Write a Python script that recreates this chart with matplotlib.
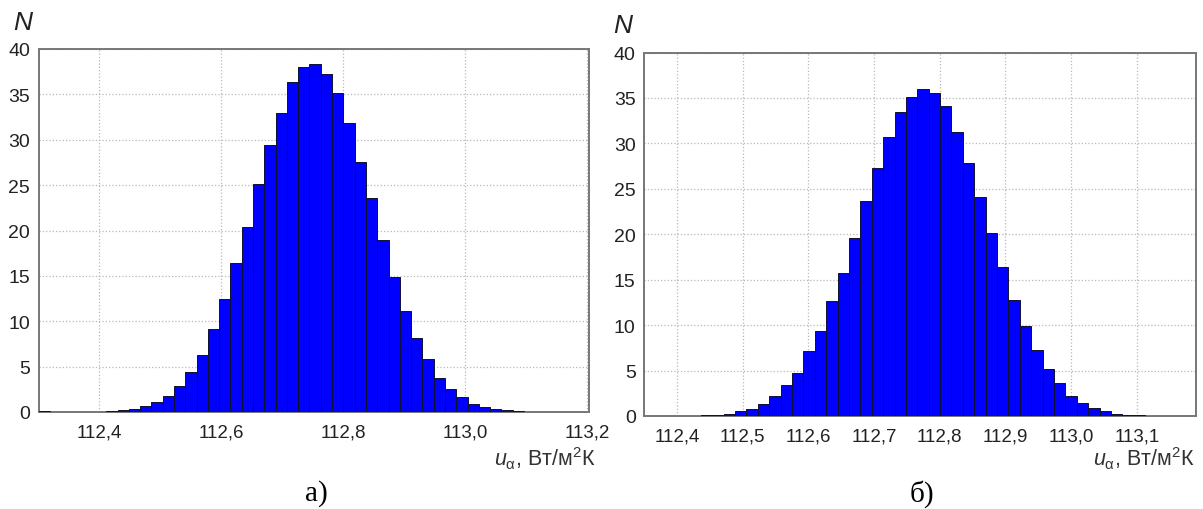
import numpy as np
import matplotlib
matplotlib.use('Agg')
import matplotlib.pyplot as plt

plt.rcParams['font.family'] = ['Liberation Sans', 'DejaVu Sans']
plt.rcParams['mathtext.fontset'] = 'custom'
plt.rcParams['mathtext.rm'] = 'Liberation Sans'
plt.rcParams['mathtext.it'] = 'Liberation Sans:italic'

# panel a) histogram
a_start = 112.301
a_width = 0.0185
a_heights = [0.1, 0, 0, 0, 0.03, 0.05, 0.08,
             0.2, 0.37, 0.66, 1.1, 1.76, 2.86, 4.4, 6.3,
             9.1, 12.4, 16.4, 20.4, 25.1,
             29.4, 33.0, 36.4, 38.0, 38.35,
             37.2, 35.1, 31.8, 27.6, 23.6,
             19.0, 14.9, 11.1, 8.1, 5.8,
             3.7, 2.5, 1.6, 0.9, 0.6, 0.3, 0.2, 0.1, 0.05]
a_ticks = [112.4, 112.6, 112.8, 113.0, 113.2]
a_ticklabels = ['112,4', '112,6', '112,8', '113,0', '113,2']

# panel б) histogram
b_start = 112.35
b_width = 0.01733
b_heights = [0.05, 0, 0, 0, 0.03, 0.07,
             0.15, 0.25, 0.5, 0.8, 1.3, 2.2, 3.4, 4.7,
             7.1, 9.4, 12.7, 15.7, 19.6, 23.7, 27.3, 30.7,
             33.4, 35.1, 36.0, 35.5, 34.1, 31.2, 27.8, 24.1,
             20.1, 16.4, 12.8, 9.9, 7.3, 5.2, 3.6, 2.2,
             1.4, 0.85, 0.55, 0.25, 0.15, 0.08, 0.04]
b_ticks = [112.4, 112.5, 112.6, 112.7, 112.8, 112.9, 113.0, 113.1]
b_ticklabels = ['112,4', '112,5', '112,6', '112,7', '112,8', '112,9', '113,0', '113,1']

y_ticks = [0, 5, 10, 15, 20, 25, 30, 35, 40]

fig = plt.figure(figsize=(12.03, 5.10), dpi=100)
W, H = 1203, 510

panels = [
    dict(rect=[38.5 / W, 97 / H, 550.5 / W, 363 / H], start=a_start, width=a_width,
         heights=a_heights, ticks=a_ticks, labels=a_ticklabels, xlim=(112.301, 113.203),
         n_pos=(23, 23), xl_pos=(596, 466), tag='а)', tag_pos=(316, 494)),
    dict(rect=[644 / W, 93 / H, 552 / W, 363.5 / H], start=b_start, width=b_width,
         heights=b_heights, ticks=b_ticks, labels=b_ticklabels, xlim=(112.35, 113.19),
         n_pos=(623, 26), xl_pos=(1195, 466), tag='б)', tag_pos=(922, 494)),
]

for p in panels:
    ax = fig.add_axes(p['rect'])
    edges = p['start'] + p['width'] * np.arange(len(p['heights']))
    ax.bar(edges, p['heights'], width=p['width'], align='edge',
           color='#0000ff', edgecolor='#101030', linewidth=0.7, zorder=3)
    ax.set_xlim(*p['xlim'])
    ax.set_ylim(0, 40)
    ax.set_xticks(p['ticks'])
    ax.set_xticklabels(p['labels'])
    ax.set_yticks(y_ticks)
    ax.tick_params(axis='both', length=0, colors='#222222')
    ax.tick_params(axis='x', pad=8, labelsize=13.5)
    ax.tick_params(axis='y', pad=6, labelsize=14)
    ax.grid(True, linestyle=':', color='#b8b8b8', linewidth=0.9, zorder=0)
    for s in ax.spines.values():
        s.set_color('#777777')
        s.set_linewidth(1.4)

    fig.text(p['n_pos'][0] / W, 1 - p['n_pos'][1] / H, 'N', fontsize=19,
             style='italic', ha='center', va='center', color='#222222')
    fig.text(p['xl_pos'][0] / W, 1 - p['xl_pos'][1] / H,
             r'$u_{\mathrm{α}}$, Вт/м$^{2}$К', fontsize=15.5, ha='right', va='baseline',
             color='#333333')
    fig.text(p['tag_pos'][0] / W, 1 - p['tag_pos'][1] / H, p['tag'], fontsize=21,
             family='Liberation Serif', ha='center', va='center', color='black')

fig.savefig('out.png', dpi=100)
